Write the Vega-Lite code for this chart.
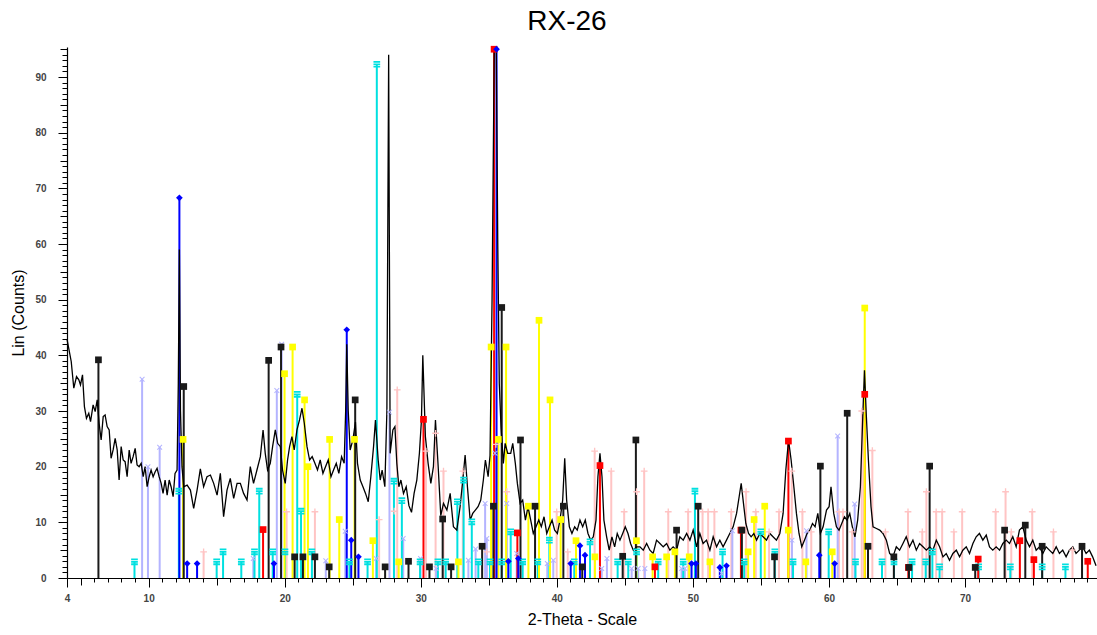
{
"$schema": "https://vega.github.io/schema/vega-lite/v6.json",
"width": 1030, "height": 531,
"autosize": {"type": "none"},
"padding": {"left": 67, "top": 47, "right": 0, "bottom": 57},
"background": "white",
"title": {"text": "RX-26", "fontSize": 28, "font": "Liberation Sans", "fontWeight": "normal", "color": "#000", "anchor": "middle", "dx": -15, "offset": 10},
"config": {"view": {"stroke": null}, "axis": {"grid": false}},
"datasets": {
"pattern": [
{"t":4.01,"c":42.8},{"t":4.31,"c":38.9},{"t":4.50,"c":34.1},{"t":4.70,"c":36.2},{"t":4.87,"c":35.6},{"t":4.99,"c":34.7},{"t":5.14,"c":36.5},{"t":5.28,"c":30.8},{"t":5.43,"c":28.7},{"t":5.60,"c":29.6},{"t":5.73,"c":28.1},{"t":5.92,"c":31.1},{"t":6.07,"c":29.9},{"t":6.22,"c":32},{"t":6.36,"c":27.8},{"t":6.51,"c":24.8},{"t":6.66,"c":29},{"t":6.80,"c":29.3},{"t":6.95,"c":27.2},{"t":7.10,"c":26.6},{"t":7.24,"c":21.5},{"t":7.39,"c":23},{"t":7.54,"c":25.1},{"t":7.69,"c":23},{"t":7.83,"c":17.6},{"t":7.98,"c":23.6},{"t":8.13,"c":21.2},{"t":8.27,"c":20.9},{"t":8.42,"c":18.2},{"t":8.57,"c":23},{"t":8.71,"c":20.6},{"t":8.86,"c":21.8},{"t":9.01,"c":23.3},{"t":9.15,"c":20.3},{"t":9.30,"c":20},{"t":9.45,"c":20.6},{"t":9.60,"c":18.2},{"t":9.74,"c":20},{"t":9.89,"c":16.4},{"t":10.04,"c":18.2},{"t":10.18,"c":19.4},{"t":10.33,"c":18.2},{"t":10.48,"c":19.1},{"t":10.62,"c":19.7},{"t":10.77,"c":18.2},{"t":10.92,"c":17},{"t":11.06,"c":15.2},{"t":11.21,"c":17.6},{"t":11.36,"c":14.9},{"t":11.51,"c":17.6},{"t":11.65,"c":16.4},{"t":11.80,"c":14.6},{"t":11.94,"c":18.8},{"t":12.09,"c":19.4},{"t":12.18,"c":35},{"t":12.26,"c":59},{"t":12.34,"c":30},{"t":12.45,"c":20},
{"t":12.58,"c":16.4},{"t":12.83,"c":16.7},{"t":13.07,"c":15.8},{"t":13.31,"c":12.5},{"t":13.56,"c":15.8},{"t":13.80,"c":19.6},{"t":14.04,"c":16.4},{"t":14.29,"c":18.2},{"t":14.54,"c":18.5},{"t":14.78,"c":17},{"t":15.03,"c":14.9},{"t":15.27,"c":18.8},{"t":15.51,"c":11},{"t":15.76,"c":15.8},{"t":16.00,"c":17.9},{"t":16.25,"c":14.3},{"t":16.50,"c":17},{"t":16.74,"c":17},{"t":16.98,"c":15.2},{"t":17.23,"c":14},{"t":17.47,"c":20.0},{"t":17.71,"c":17.0},{"t":17.96,"c":19.4},{"t":18.21,"c":21.8},{"t":18.41,"c":26.6},{"t":18.57,"c":22.4},{"t":18.74,"c":19.4},{"t":18.94,"c":20.6},{"t":19.11,"c":23.6},{"t":19.31,"c":26.6},{"t":19.48,"c":24.2},{"t":19.68,"c":23.6},{"t":19.84,"c":19.4},{"t":20.04,"c":17.0},{"t":20.21,"c":21.2},{"t":20.36,"c":23.6},{"t":20.53,"c":25.4},{"t":20.70,"c":23},{"t":20.90,"c":26.6},{"t":21.09,"c":28.4},{"t":21.27,"c":30.5},{"t":21.44,"c":27.8},{"t":21.64,"c":23.6},{"t":21.83,"c":21.2},{"t":22.02,"c":21.8},{"t":22.22,"c":20.6},{"t":22.41,"c":19.4},{"t":22.61,"c":21.2},{"t":22.81,"c":18.8},{"t":23.00,"c":20},{"t":23.20,"c":21.2},{"t":23.40,"c":18.2},{"t":23.59,"c":19.4},{"t":23.79,"c":20.6},{"t":23.98,"c":18.8},{"t":24.18,"c":21.8},{"t":24.37,"c":20.6},{"t":24.48,"c":30},{"t":24.56,"c":42},{"t":24.67,"c":30},{"t":24.81,"c":23},{"t":25.01,"c":24.8},{"t":25.20,"c":28},{"t":25.35,"c":20.6},{"t":25.55,"c":17.6},{"t":25.75,"c":16.4},{"t":25.94,"c":15.2},{"t":26.14,"c":13.7},{"t":26.33,"c":18.2},{"t":26.53,"c":23.6},{"t":26.67,"c":28.4},{"t":26.87,"c":21.2},{"t":27.02,"c":17.6},{"t":27.16,"c":19.4},{"t":27.36,"c":16.4},{"t":27.51,"c":30},{"t":27.64,"c":94},{"t":27.75,"c":22.4},{"t":27.95,"c":26.6},{"t":28.10,"c":27.2},{"t":28.24,"c":20.6},{"t":28.39,"c":16.4},{"t":28.54,"c":17.6},{"t":28.73,"c":15.2},{"t":28.93,"c":16.4},{"t":29.13,"c":13.0},{"t":29.32,"c":11.8},{"t":29.51,"c":15.2},{"t":29.71,"c":17.6},{"t":29.90,"c":22.4},{"t":30.05,"c":28.4},{"t":30.15,"c":40},{"t":30.34,"c":25.4},{"t":30.54,"c":20.6},{"t":30.74,"c":17},{"t":30.93,"c":20},{"t":31.08,"c":28.4},{"t":31.28,"c":20},{"t":31.47,"c":11.2},{"t":31.67,"c":13.4},{"t":31.92,"c":12.2},{"t":32.16,"c":15.2},{"t":32.40,"c":9.2},{"t":32.65,"c":8.6},{"t":32.89,"c":12.8},{"t":33.09,"c":17.6},{"t":33.26,"c":22.1},{"t":33.43,"c":16.4},{"t":33.63,"c":10.4},{"t":33.82,"c":11.6},{"t":34.01,"c":12.2},{"t":34.21,"c":12.8},{"t":34.41,"c":14},{"t":34.60,"c":17.6},{"t":34.75,"c":21.2},{"t":34.95,"c":18.2},{"t":35.09,"c":22},{"t":35.24,"c":50},{"t":35.40,"c":95},{"t":35.55,"c":95},{"t":35.66,"c":60},{"t":35.77,"c":35},{"t":35.90,"c":27},{"t":36.07,"c":20.6},{"t":36.20,"c":24.2},{"t":36.39,"c":22.4},{"t":36.61,"c":22.4},{"t":36.76,"c":24.2},{"t":36.95,"c":20.6},{"t":37.10,"c":17},{"t":37.30,"c":13.4},{"t":37.49,"c":14},{"t":37.69,"c":10.4},{"t":37.88,"c":12.8},{"t":38.08,"c":10.4},{"t":38.27,"c":8.0},{"t":38.47,"c":9.2},{"t":38.67,"c":10.4},{"t":38.86,"c":9.2},{"t":39.06,"c":11},{"t":39.26,"c":8},{"t":39.45,"c":9.2},{"t":39.65,"c":10.4},{"t":39.84,"c":8.6},{"t":40.04,"c":8},{"t":40.23,"c":10.4},{"t":40.43,"c":14},{"t":40.58,"c":21.5},{"t":40.72,"c":14},{"t":40.92,"c":9.2},{"t":41.11,"c":8},{"t":41.31,"c":9.2},{"t":41.50,"c":8.6},{"t":41.70,"c":10.4},{"t":41.90,"c":9.2},{"t":42.09,"c":10.4},{"t":42.29,"c":8},{"t":42.49,"c":6.8},{"t":42.68,"c":7.4},{"t":42.88,"c":10.4},{"t":43.02,"c":18.2},{"t":43.17,"c":22.4},{"t":43.32,"c":18.2},{"t":43.46,"c":10.4},{"t":43.66,"c":7.4},{"t":43.85,"c":5},{"t":44.05,"c":7.4},{"t":44.25,"c":5.6},{"t":44.44,"c":8},{"t":44.64,"c":6.8},{"t":44.84,"c":8},{"t":45.03,"c":9.2},{"t":45.23,"c":8},{"t":45.42,"c":6.2},{"t":45.62,"c":5},{"t":45.87,"c":5.6},{"t":46.11,"c":5.6},{"t":46.35,"c":5},{"t":46.60,"c":6.2},{"t":46.84,"c":5},{"t":47.08,"c":4.4},{"t":47.33,"c":6.8},{"t":47.58,"c":6.2},{"t":47.82,"c":5.6},{"t":48.07,"c":6.2},{"t":48.31,"c":5},{"t":48.55,"c":5.6},{"t":48.80,"c":5},{"t":49.04,"c":7.4},{"t":49.29,"c":6.8},{"t":49.54,"c":8},{"t":49.78,"c":6.8},{"t":50.02,"c":8.6},{"t":50.27,"c":5.6},{"t":50.51,"c":8},{"t":50.75,"c":6.2},{"t":51.00,"c":6.8},{"t":51.25,"c":5},{"t":51.49,"c":7.4},{"t":51.74,"c":5.6},{"t":51.98,"c":6.8},{"t":52.22,"c":5.6},{"t":52.47,"c":6.8},{"t":52.71,"c":8},{"t":52.96,"c":9.2},{"t":53.21,"c":11.6},{"t":53.40,"c":14.6},{"t":53.55,"c":17},{"t":53.69,"c":14},{"t":53.89,"c":9.8},{"t":54.09,"c":8},{"t":54.28,"c":7.4},{"t":54.48,"c":8},{"t":54.68,"c":6.8},{"t":54.92,"c":8},{"t":55.16,"c":7.4},{"t":55.41,"c":6.8},{"t":55.65,"c":8},{"t":55.89,"c":7.4},{"t":56.14,"c":6.8},{"t":56.39,"c":8},{"t":56.63,"c":11.6},{"t":56.83,"c":19.4},{"t":57.03,"c":24.8},{"t":57.22,"c":21.2},{"t":57.42,"c":16.4},{"t":57.61,"c":11.6},{"t":57.80,"c":8},{"t":58.00,"c":5.6},{"t":58.20,"c":6.8},{"t":58.39,"c":8},{"t":58.59,"c":8.6},{"t":58.79,"c":9.8},{"t":58.98,"c":9.2},{"t":59.18,"c":11.6},{"t":59.37,"c":8},{"t":59.57,"c":9.2},{"t":59.82,"c":12.2},{"t":60.01,"c":12.8},{"t":60.15,"c":16.4},{"t":60.35,"c":11.6},{"t":60.55,"c":9.2},{"t":60.74,"c":8.6},{"t":60.94,"c":9.8},{"t":61.14,"c":11},{"t":61.33,"c":10.4},{"t":61.53,"c":11.6},{"t":61.72,"c":9.2},{"t":61.91,"c":7.4},{"t":62.11,"c":10.4},{"t":62.31,"c":16.4},{"t":62.50,"c":30},{"t":62.61,"c":37.3},{"t":62.75,"c":29},{"t":62.90,"c":21.2},{"t":63.09,"c":12.8},{"t":63.24,"c":9.2},{"t":63.49,"c":8.9},{"t":63.73,"c":8.6},{"t":63.97,"c":8},{"t":64.22,"c":6.8},{"t":64.46,"c":4.4},{"t":64.70,"c":3.8},{"t":64.95,"c":5.6},{"t":65.19,"c":5},{"t":65.44,"c":6.2},{"t":65.68,"c":7.4},{"t":65.92,"c":5.6},{"t":66.17,"c":6.8},{"t":66.42,"c":5},{"t":66.66,"c":6.2},{"t":66.91,"c":5.6},{"t":67.16,"c":5},{"t":67.40,"c":5.6},{"t":67.64,"c":5},{"t":67.89,"c":6.8},{"t":68.13,"c":5.6},{"t":68.38,"c":3.8},{"t":68.62,"c":4.4},{"t":68.86,"c":3.2},{"t":69.11,"c":4.4},{"t":69.36,"c":5},{"t":69.60,"c":3.8},{"t":69.84,"c":5},{"t":70.09,"c":5.6},{"t":70.33,"c":4.4},{"t":70.58,"c":6.2},{"t":70.82,"c":7.4},{"t":71.06,"c":8},{"t":71.31,"c":6.8},{"t":71.56,"c":7.7},{"t":71.80,"c":5.6},{"t":72.04,"c":5},{"t":72.29,"c":5.6},{"t":72.54,"c":5},{"t":72.78,"c":6.2},{"t":73.03,"c":6.8},{"t":73.27,"c":6.2},{"t":73.51,"c":7.4},{"t":73.76,"c":5.6},{"t":74.00,"c":8.6},{"t":74.25,"c":9.2},{"t":74.50,"c":6.8},{"t":74.74,"c":5.6},{"t":74.98,"c":6.8},{"t":75.23,"c":5},{"t":75.47,"c":5.6},{"t":75.72,"c":4.4},{"t":75.96,"c":5.6},{"t":76.20,"c":5},{"t":76.45,"c":4.4},{"t":76.70,"c":5.6},{"t":76.94,"c":4.4},{"t":77.18,"c":5},{"t":77.43,"c":3.8},{"t":77.67,"c":5},{"t":77.92,"c":5.6},{"t":78.16,"c":4.4},{"t":78.40,"c":5},{"t":78.65,"c":5.6},{"t":78.90,"c":4.4},{"t":79.14,"c":5},{"t":79.38,"c":3.8},{"t":79.63,"c":2.2}
],
"sticks": [
{"t":14.04,"h":4.7,"p":"pink"},{"t":20.14,"h":11.9,"p":"pink"},{"t":22.22,"h":11.9,"p":"pink"},{"t":26.94,"h":10.5,"p":"pink"},{"t":28.05,"h":12,"p":"pink"},{"t":28.27,"h":33.8,"p":"pink"},{"t":30.38,"h":22.8,"p":"pink"},{"t":31.09,"h":26,"p":"pink"},{"t":31.67,"h":19.2,"p":"pink"},{"t":33.09,"h":19.2,"p":"pink"},{"t":34.85,"h":4.7,"p":"pink"},{"t":35.52,"h":24,"p":"pink"},{"t":36.32,"h":15.5,"p":"pink"},{"t":39.99,"h":11.9,"p":"pink"},{"t":40.80,"h":4.7,"p":"pink"},{"t":42.78,"h":22.8,"p":"pink"},{"t":44.00,"h":19.2,"p":"pink"},{"t":44.95,"h":11.9,"p":"pink"},{"t":45.86,"h":15.5,"p":"pink"},{"t":46.42,"h":19.2,"p":"pink"},{"t":48.19,"h":11.9,"p":"pink"},{"t":49.65,"h":11.9,"p":"pink"},{"t":50.71,"h":11.9,"p":"pink"},{"t":51.12,"h":11.9,"p":"pink"},{"t":51.58,"h":11.9,"p":"pink"},{"t":52.82,"h":11.9,"p":"pink"},{"t":53.91,"h":15.5,"p":"pink"},{"t":54.62,"h":11.9,"p":"pink"},{"t":55.60,"h":8.3,"p":"pink"},{"t":56.33,"h":11.9,"p":"pink"},{"t":57.27,"h":19.2,"p":"pink"},{"t":58.05,"h":11.9,"p":"pink"},{"t":58.70,"h":8.3,"p":"pink"},{"t":60.74,"h":11.9,"p":"pink"},{"t":61.03,"h":11.9,"p":"pink"},{"t":61.71,"h":8.3,"p":"pink"},{"t":62.41,"h":30,"p":"pink"},{"t":63.19,"h":22.9,"p":"pink"},{"t":64.15,"h":8.3,"p":"pink"},{"t":65.81,"h":11.9,"p":"pink"},{"t":66.86,"h":8.3,"p":"pink"},{"t":67.16,"h":15.5,"p":"pink"},{"t":67.88,"h":11.9,"p":"pink"},{"t":68.32,"h":11.9,"p":"pink"},{"t":69.18,"h":8.3,"p":"pink"},{"t":69.79,"h":11.9,"p":"pink"},{"t":72.25,"h":11.9,"p":"pink"},{"t":72.98,"h":15.5,"p":"pink"},{"t":73.40,"h":8.3,"p":"pink"},{"t":74.94,"h":11.9,"p":"pink"},{"t":76.5,"h":8.3,"p":"pink"},{"t":77.9,"h":5,"p":"pink"},
{"t":9.52,"h":35.7,"p":"lav"},{"t":9.95,"h":20,"p":"lav"},{"t":10.81,"h":23.5,"p":"lav"},{"t":17.69,"h":3.5,"p":"lav"},{"t":19.42,"h":33.7,"p":"lav"},{"t":19.78,"h":42,"p":"lav"},{"t":23.02,"h":3.1,"p":"lav"},{"t":24.45,"h":8.4,"p":"lav"},{"t":26.72,"h":3.5,"p":"lav"},{"t":27.70,"h":29.8,"p":"lav"},{"t":28.71,"h":7.1,"p":"lav"},{"t":29.98,"h":3.5,"p":"lav"},{"t":31.13,"h":1.7,"p":"lav"},{"t":33.50,"h":3.2,"p":"lav"},{"t":34.03,"h":5.2,"p":"lav"},{"t":34.73,"h":13.4,"p":"lav"},{"t":34.85,"h":7.1,"p":"lav"},{"t":35.46,"h":22.4,"p":"lav"},{"t":36.32,"h":13.4,"p":"lav"},{"t":37.05,"h":4.4,"p":"lav"},{"t":39.30,"h":2.6,"p":"lav"},{"t":39.74,"h":3.2,"p":"lav"},{"t":43.30,"h":1.7,"p":"lav"},{"t":43.68,"h":3.5,"p":"lav"},{"t":45.50,"h":1.7,"p":"lav"},{"t":45.98,"h":1.7,"p":"lav"},{"t":46.47,"h":1.7,"p":"lav"},{"t":49.17,"h":1.7,"p":"lav"},{"t":49.41,"h":1.7,"p":"lav"},{"t":52.11,"h":0.8,"p":"lav"},{"t":52.90,"h":8.5,"p":"lav"},{"t":57.28,"h":6.8,"p":"lav"},{"t":58.35,"h":8.5,"p":"lav"},{"t":60.64,"h":25.5,"p":"lav"},{"t":61.89,"h":13.3,"p":"lav"},
{"t":8.96,"h":2.9,"p":"cyan"},{"t":12.22,"h":15.6,"p":"cyan"},{"t":15.00,"h":2.9,"p":"cyan"},{"t":15.47,"h":4.7,"p":"cyan"},{"t":16.81,"h":2.9,"p":"cyan"},{"t":17.78,"h":4.7,"p":"cyan"},{"t":18.13,"h":15.6,"p":"cyan"},{"t":19.12,"h":4.7,"p":"cyan"},{"t":20.02,"h":4.7,"p":"cyan"},{"t":20.92,"h":33,"p":"cyan"},{"t":21.20,"h":12,"p":"cyan"},{"t":22.00,"h":4.7,"p":"cyan"},{"t":24.76,"h":2.9,"p":"cyan"},{"t":26.09,"h":2.9,"p":"cyan"},{"t":26.77,"h":92.3,"p":"cyan"},{"t":28.03,"h":17.4,"p":"cyan"},{"t":28.61,"h":13.9,"p":"cyan"},{"t":29.95,"h":2.9,"p":"cyan"},{"t":31.26,"h":2.9,"p":"cyan"},{"t":31.83,"h":2.9,"p":"cyan"},{"t":32.69,"h":13.7,"p":"cyan"},{"t":33.15,"h":17.6,"p":"cyan"},{"t":33.75,"h":10.1,"p":"cyan"},{"t":34.23,"h":2.9,"p":"cyan"},{"t":35.09,"h":2.9,"p":"cyan"},{"t":35.95,"h":2.9,"p":"cyan"},{"t":36.61,"h":8.3,"p":"cyan"},{"t":37.49,"h":2.9,"p":"cyan"},{"t":38.60,"h":2.9,"p":"cyan"},{"t":39.45,"h":6.8,"p":"cyan"},{"t":41.28,"h":2.9,"p":"cyan"},{"t":42.44,"h":6.5,"p":"cyan"},{"t":44.47,"h":2.9,"p":"cyan"},{"t":45.25,"h":2.9,"p":"cyan"},{"t":45.86,"h":4.7,"p":"cyan"},{"t":47.45,"h":2.9,"p":"cyan"},{"t":49.29,"h":2.9,"p":"cyan"},{"t":50.15,"h":15.6,"p":"cyan"},{"t":52.18,"h":4.7,"p":"cyan"},{"t":53.77,"h":2.9,"p":"cyan"},{"t":54.99,"h":8.3,"p":"cyan"},{"t":56.02,"h":4.7,"p":"cyan"},{"t":57.36,"h":2.9,"p":"cyan"},{"t":59.98,"h":8.3,"p":"cyan"},{"t":61.95,"h":2.9,"p":"cyan"},{"t":63.90,"h":2.9,"p":"cyan"},{"t":64.78,"h":2.9,"p":"cyan"},{"t":66.11,"h":2.9,"p":"cyan"},{"t":67.11,"h":2.9,"p":"cyan"},{"t":67.60,"h":4.7,"p":"cyan"},{"t":68.13,"h":2.0,"p":"cyan"},{"t":71.00,"h":2.0,"p":"cyan"},{"t":73.33,"h":2.0,"p":"cyan"},{"t":75.67,"h":2.0,"p":"cyan"},{"t":77.38,"h":2.0,"p":"cyan"},
{"t":18.41,"h":8.7,"p":"red"},{"t":30.20,"h":28.5,"p":"red"},{"t":35.39,"h":95,"p":"red"},{"t":37.10,"h":8.1,"p":"red"},{"t":43.17,"h":20.2,"p":"red"},{"t":47.21,"h":2.0,"p":"red"},{"t":53.53,"h":8.6,"p":"red"},{"t":57.02,"h":24.6,"p":"red"},{"t":62.63,"h":33,"p":"red"},{"t":65.84,"h":1.9,"p":"red"},{"t":70.97,"h":3.4,"p":"red"},{"t":74.03,"h":6.7,"p":"red"},{"t":75.06,"h":3.3,"p":"red"},{"t":79.02,"h":3.0,"p":"red"},
{"t":12.53,"h":24.9,"p":"yellow"},{"t":19.99,"h":36.7,"p":"yellow"},{"t":20.58,"h":41.5,"p":"yellow"},{"t":21.46,"h":32,"p":"yellow"},{"t":21.71,"h":20,"p":"yellow"},{"t":23.30,"h":24.9,"p":"yellow"},{"t":24.01,"h":10.5,"p":"yellow"},{"t":25.13,"h":24.9,"p":"yellow"},{"t":26.48,"h":6.7,"p":"yellow"},{"t":28.38,"h":2.9,"p":"yellow"},{"t":32.77,"h":2.9,"p":"yellow"},{"t":35.17,"h":41.5,"p":"yellow"},{"t":35.70,"h":24.9,"p":"yellow"},{"t":36.27,"h":41.5,"p":"yellow"},{"t":37.91,"h":12.9,"p":"yellow"},{"t":38.69,"h":46.3,"p":"yellow"},{"t":39.50,"h":32,"p":"yellow"},{"t":40.28,"h":10.5,"p":"yellow"},{"t":41.41,"h":6.7,"p":"yellow"},{"t":42.80,"h":3.8,"p":"yellow"},{"t":45.85,"h":6.7,"p":"yellow"},{"t":47.04,"h":3.8,"p":"yellow"},{"t":48.07,"h":3.8,"p":"yellow"},{"t":48.68,"h":4.7,"p":"yellow"},{"t":49.73,"h":3.8,"p":"yellow"},{"t":51.25,"h":2.9,"p":"yellow"},{"t":54.06,"h":4.7,"p":"yellow"},{"t":54.50,"h":10.5,"p":"yellow"},{"t":55.28,"h":12.9,"p":"yellow"},{"t":57.01,"h":8.6,"p":"yellow"},{"t":58.30,"h":2.9,"p":"yellow"},{"t":60.24,"h":4.7,"p":"yellow"},{"t":62.63,"h":48.5,"p":"yellow"},
{"t":6.31,"h":39.2,"p":"black"},{"t":12.58,"h":34.4,"p":"black"},{"t":18.82,"h":39.1,"p":"black"},{"t":19.73,"h":41.5,"p":"black"},{"t":20.73,"h":3.8,"p":"black"},{"t":21.34,"h":3.8,"p":"black"},{"t":22.22,"h":3.8,"p":"black"},{"t":23.27,"h":2.0,"p":"black"},{"t":25.18,"h":32,"p":"black"},{"t":27.38,"h":2.0,"p":"black"},{"t":29.10,"h":3.0,"p":"black"},{"t":30.64,"h":2.0,"p":"black"},{"t":31.61,"h":10.6,"p":"black"},{"t":32.23,"h":2.0,"p":"black"},{"t":34.51,"h":5.7,"p":"black"},{"t":35.34,"h":12.9,"p":"black"},{"t":35.95,"h":48.6,"p":"black"},{"t":37.33,"h":24.8,"p":"black"},{"t":38.40,"h":12.9,"p":"black"},{"t":40.48,"h":12.9,"p":"black"},{"t":41.87,"h":2.0,"p":"black"},{"t":44.84,"h":3.9,"p":"black"},{"t":45.81,"h":24.8,"p":"black"},{"t":48.80,"h":8.6,"p":"black"},{"t":50.39,"h":12.9,"p":"black"},{"t":53.60,"h":8.6,"p":"black"},{"t":56.00,"h":3.8,"p":"black"},{"t":59.37,"h":20.1,"p":"black"},{"t":61.34,"h":29.6,"p":"black"},{"t":62.87,"h":5.7,"p":"black"},{"t":64.77,"h":3.8,"p":"black"},{"t":65.88,"h":1.9,"p":"black"},{"t":67.40,"h":20.1,"p":"black"},{"t":70.75,"h":1.9,"p":"black"},{"t":72.91,"h":8.6,"p":"black"},{"t":74.43,"h":9.5,"p":"black"},{"t":75.67,"h":5.7,"p":"black"},{"t":78.60,"h":5.7,"p":"black"},
{"t":12.26,"h":68.3,"p":"blue"},{"t":12.83,"h":2.6,"p":"blue"},{"t":13.56,"h":2.6,"p":"blue"},{"t":19.21,"h":2.6,"p":"blue"},{"t":24.56,"h":44.6,"p":"blue"},{"t":24.89,"h":6.8,"p":"blue"},{"t":25.42,"h":3.8,"p":"blue"},{"t":35.57,"h":95,"p":"blue"},{"t":36.44,"h":3.0,"p":"blue"},{"t":37.17,"h":3.5,"p":"blue"},{"t":41.02,"h":2.6,"p":"blue"},{"t":41.70,"h":5.8,"p":"blue"},{"t":42.07,"h":4.1,"p":"blue"},{"t":49.90,"h":2.6,"p":"blue"},{"t":50.22,"h":2.6,"p":"blue"},{"t":51.98,"h":1.9,"p":"blue"},{"t":52.47,"h":2.2,"p":"blue"},{"t":59.29,"h":4.1,"p":"blue"},{"t":60.42,"h":2.6,"p":"blue"}
]
},
"layer": [
{
"data": {"name": "sticks"},
"transform": [{"filter": {"field": "p", "oneOf": ["pink", "lav"]}}],
"mark": {"type": "rule", "strokeWidth": 2},
"encoding": {
"x": {"field": "t", "type": "quantitative", "scale": {"domain": [4, 79.7], "nice": false, "zero": false},
"axis": {"orient": "bottom", "values": [5,15,25,35,45,55,65,75], "tickSize": 7, "tickColor": "#000", "labels": false, "domain": false, "grid": false, "title": null}},
"y": {"field": "h", "type": "quantitative", "scale": {"domain": [0, 95.4], "nice": false},
"axis": {"orient": "left", "values": [5,15,25,35,45,55,65,75,85,95], "tickSize": 7, "tickColor": "#000", "labels": false, "domain": false, "grid": false, "title": null}},
"y2": {"datum": 0},
"color": {"field": "p", "type": "nominal", "legend": null,
"scale": {"domain": ["black","blue","cyan","yellow","red","pink","lav"], "range": ["#1a1a1a","#0000ff","#00e0e0","#ffff00","#ff0000","#ffc4c4","#b4b4ff"]}}
}
},
{
"data": {"name": "sticks"},
"transform": [{"filter": {"field": "p", "oneOf": ["cyan", "yellow", "red", "black", "blue"]}}],
"mark": {"type": "rule", "strokeWidth": 2},
"encoding": {
"x": {"field": "t", "type": "quantitative", "scale": {"domain": [4, 79.7], "nice": false, "zero": false},
"axis": {"orient": "bottom", "values": [5,6,7,8,9,11,12,13,14,16,17,18,19,21,22,23,24,26,27,28,29,31,32,33,34,36,37,38,39,41,42,43,44,46,47,48,49,51,52,53,54,56,57,58,59,61,62,63,64,66,67,68,69,71,72,73,74,76,77,78,79], "tickSize": 4, "tickColor": "#000", "labels": false, "domain": false, "grid": false, "title": null}},
"y": {"field": "h", "type": "quantitative", "scale": {"domain": [0, 95.4], "nice": false},
"axis": {"orient": "left", "values": [1,2,3,4,6,7,8,9,11,12,13,14,16,17,18,19,21,22,23,24,26,27,28,29,31,32,33,34,36,37,38,39,41,42,43,44,46,47,48,49,51,52,53,54,56,57,58,59,61,62,63,64,66,67,68,69,71,72,73,74,76,77,78,79,81,82,83,84,86,87,88,89,91,92,93,94], "tickSize": 5, "tickColor": "#000", "labels": false, "domain": false, "grid": false, "title": null}},
"y2": {"datum": 0},
"color": {"field": "p", "type": "nominal", "legend": null}
}
},
{
"data": {"name": "pattern"},
"mark": {"type": "line", "color": "#000", "strokeWidth": 1.3},
"encoding": {
"x": {"field": "t", "type": "quantitative", "scale": {"domain": [4, 79.7], "nice": false, "zero": false},
"axis": {"orient": "bottom", "values": [4,10,20,30,40,50,60,70], "tickSize": 9, "tickColor": "#000", "domainColor": "#000", "domainWidth": 1.2, "labelFont": "Liberation Sans", "labelFontSize": 10, "labelFontWeight": "bold", "labelColor": "#444", "labelPadding": 6, "labelFlush": false, "grid": false,
"title": "2-Theta - Scale", "titleFont": "Liberation Sans", "titleFontSize": 16, "titleFontWeight": "normal", "titleColor": "#000", "titlePadding": 8}},
"y": {"field": "c", "type": "quantitative", "scale": {"domain": [0, 95.4], "nice": false},
"axis": {"orient": "left", "values": [0,10,20,30,40,50,60,70,80,90], "tickSize": 9, "tickColor": "#000", "domainColor": "#000", "domainWidth": 1.2, "labelFont": "Liberation Sans", "labelFontSize": 10, "labelFontWeight": "bold", "labelColor": "#444", "labelPadding": 12, "labelFlush": false, "grid": false,
"title": "Lin (Counts)", "titleFont": "Liberation Sans", "titleFontSize": 16, "titleFontWeight": "normal", "titleColor": "#000", "titlePadding": 8}}
}
},
{
"data": {"name": "sticks"},
"mark": {"type": "point", "filled": true, "opacity": 1, "size": 45},
"encoding": {
"x": {"field": "t", "type": "quantitative", "axis": null},
"y": {"field": "h", "type": "quantitative", "axis": null},
"color": {"field": "p", "type": "nominal", "legend": null},
"shape": {"field": "p", "type": "nominal", "legend": null,
"scale": {"domain": ["black","blue","cyan","yellow","red","pink","lav"], "range": ["square","diamond","M-1,-1H1V-0.45H-1Z M-1,-0.25H1V0.25H-1Z M-1,0.45H1V1H-1Z","square","square","M-1,-0.2H-0.2V-1H0.2V-0.2H1V0.2H0.2V1H-0.2V0.2H-1Z","M-0.6,-0.81L0,-0.21L0.6,-0.81L0.81,-0.6L0.21,0L0.81,0.6L0.6,0.81L0,0.21L-0.6,0.81L-0.81,0.6L-0.21,0L-0.81,-0.6Z"]}}
}
},
{
"mark": {"type": "point", "shape": "triangle-up", "filled": true, "color": "#000", "size": 40, "opacity": 1},
"encoding": {
"x": {"datum": 4, "type": "quantitative", "axis": null},
"y": {"datum": 95.4, "type": "quantitative", "axis": null}
}
}
],
"resolve": {"axis": {"x": "independent", "y": "independent"}}
}
